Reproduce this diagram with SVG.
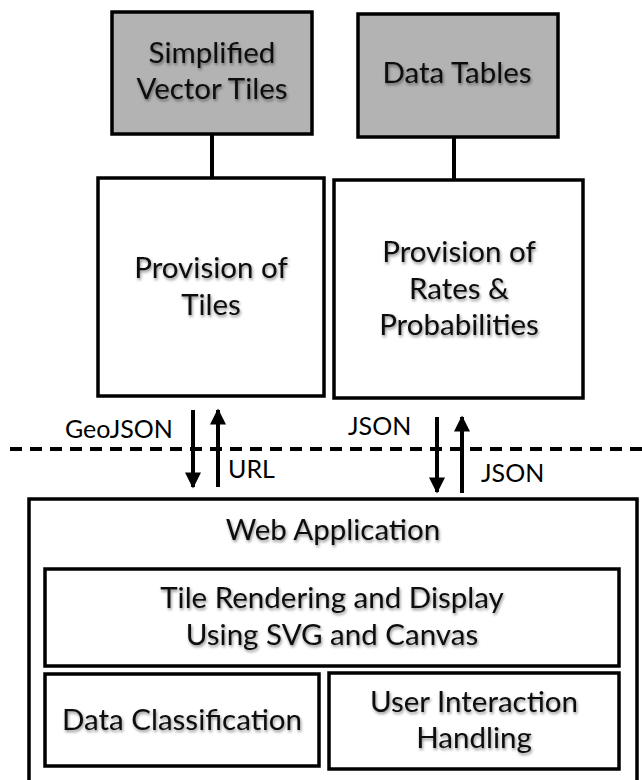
<svg xmlns="http://www.w3.org/2000/svg" width="642" height="780" viewBox="0 0 642 780">
<defs>
<filter id="sh" x="-10%" y="-30%" width="120%" height="160%">
<feDropShadow dx="1" dy="2" stdDeviation="1.5" flood-color="#000" flood-opacity="0.45"/>
</filter>
<marker id="ah" viewBox="0 0 10 10" refX="9" refY="5" markerWidth="4.2" markerHeight="4" orient="auto" markerUnits="strokeWidth">
<path d="M0,0 L10,5 L0,10 z" fill="#000"/>
</marker>
</defs>
<style>
.box{fill:#fff;stroke:#000;stroke-width:3.5}
.gray{fill:#b3b3b3;stroke:#000;stroke-width:3.5}
.t{font-family:Lato,"Open Sans",sans-serif;font-size:29.5px;fill:#111;text-anchor:middle;filter:url(#sh)}
.lb{font-family:Lato,"Open Sans",sans-serif;font-size:25px;fill:#000}
.ln{stroke:#000;stroke-width:4;fill:none}
.ar{stroke:#000;stroke-width:4;fill:none;marker-end:url(#ah)}
</style>
<rect width="642" height="780" fill="#fff"/>
<g id="connectors">
<line class="ln" x1="212" y1="134" x2="212" y2="178"/>
<line class="ln" x1="454" y1="137" x2="454" y2="180"/>
<line class="ln" x1="10" y1="449" x2="642" y2="449" stroke-dasharray="12 8" stroke-width="4.5"/>
<line class="ar" x1="193" y1="410" x2="193" y2="487"/>
<line class="ar" x1="218" y1="487" x2="218" y2="410"/>
<line class="ar" x1="437" y1="417" x2="437" y2="492"/>
<line class="ar" x1="462" y1="493" x2="462" y2="417"/>
<text class="lb" x="65" y="438">GeoJSON</text>
<text class="lb" x="228" y="478">URL</text>
<text class="lb" x="348" y="435">JSON</text>
<text class="lb" x="481" y="482">JSON</text>
</g>
<g id="svt">
<rect class="gray" x="112" y="12" width="200" height="122"/>
<text class="t" x="212" y="63">Simplified</text>
<text class="t" x="212" y="99">Vector Tiles</text>
</g>
<g id="dt">
<rect class="gray" x="358" y="14" width="200" height="123"/>
<text class="t" x="457" y="83">Data Tables</text>
</g>
<g id="pt">
<rect class="box" x="98" y="178" width="226" height="218"/>
<text class="t" x="211" y="278">Provision of</text>
<text class="t" x="211" y="315">Tiles</text>
</g>
<g id="pr">
<rect class="box" x="334" y="180" width="249" height="218"/>
<text class="t" x="459" y="262">Provision of</text>
<text class="t" x="459" y="299">Rates &amp;</text>
<text class="t" x="459" y="335">Probabilities</text>
</g>
<g id="web">
<rect class="box" x="29" y="499" width="608" height="300"/>
<text class="t" x="333" y="540">Web Application</text>
</g>
<g id="tile">
<rect class="box" x="45" y="569" width="574" height="97"/>
<text class="t" x="332" y="608">Tile Rendering and Display</text>
<text class="t" x="332" y="645">Using SVG and Canvas</text>
</g>
<g id="dc">
<rect class="box" x="45" y="674" width="274" height="92"/>
<text class="t" x="182" y="730">Data Classification</text>
</g>
<g id="ui">
<rect class="box" x="329" y="673" width="290" height="96"/>
<text class="t" x="474" y="712">User Interaction</text>
<text class="t" x="474" y="748">Handling</text>
</g>
</svg>
